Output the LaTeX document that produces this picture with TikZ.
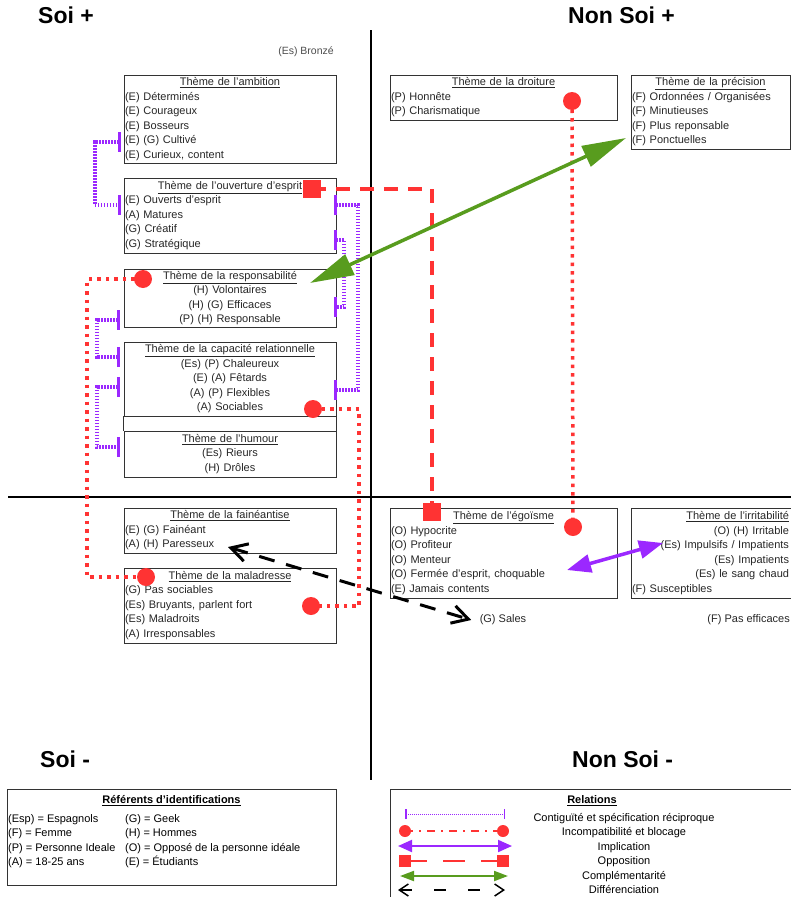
\documentclass[tikz,border=0pt]{standalone}
\usepackage{fontspec}
\setmainfont{Liberation Sans}
\usetikzlibrary{arrows.meta,positioning}
\definecolor{incred}{RGB}{255,51,51}
\definecolor{contpurple}{RGB}{155,40,255}
\definecolor{compgreen}{RGB}{88,156,30}
\newcommand{\boxfont}{\fontsize{11}{14.5}\selectfont}
\tikzset{
  theme/.style={draw=black!80, line width=0.9pt, inner xsep=1pt, inner ysep=0pt, font=\boxfont, text=black!85},
  quadrant/.style={font=\fontsize{23}{27}\selectfont\bfseries, anchor=west, inner sep=0pt},
  rdot/.style={circle, fill=incred, minimum size=18pt, inner sep=0pt},
  rsquare/.style={rectangle, fill=incred, minimum size=18pt, inner sep=0pt},
  contig/.style={contpurple, line width=4pt, dash pattern=on 1.5pt off 1.5pt, {Bar[width=20pt,line width=2.5pt]}-{Bar[width=20pt,line width=2.5pt]}},
  incomp/.style={incred, line width=3.5pt, dash pattern=on 3.5pt off 5pt},
  oppos/.style={incred, line width=3.5pt, dash pattern=on 14pt off 10pt},
  implic/.style={contpurple, line width=3.5pt, {Triangle[length=24pt,width=18pt]}-{Triangle[length=24pt,width=18pt]}},
  compl/.style={compgreen, line width=3.5pt, {Triangle[length=44pt,width=22pt]}-{Triangle[length=44pt,width=22pt]}},
  diff/.style={black, line width=3pt, dash pattern=on 16pt off 12pt, {Straight Barb[length=16pt,width=18pt]}-{Straight Barb[length=16pt,width=18pt]}},
}
\begin{document}
\begin{tikzpicture}[x=1pt,y=-1pt]
\useasboundingbox (0,0) rectangle (791,897);

% axes
\draw[line width=2pt] (371,30) -- (371,780);
\draw[line width=2pt] (8,497) -- (791,497);

% quadrants
\node[quadrant] (soiplus) at (38,15) {Soi +};
\node[quadrant] (nonsoiplus) at (568,15) {Non Soi +};
\node[quadrant] (soimoins) at (40,759) {Soi -};
\node[quadrant] (nonsoimoins) at (572,759) {Non Soi -};

\node[font=\fontsize{10.5}{12}\selectfont, text=black!70] (bronze) at (306,52) {(Es) Bronzé};

% Soi +
\node[theme, minimum width=212, minimum height=88, text width=210] (amb) at (230,119)
  {\centering\underline{Thème de l'ambition}\par\raggedright (E) Déterminés\\ (E) Courageux\\ (E) Bosseurs\\ (E) (G) Cultivé\\ (E) Curieux, content};
\node[theme, minimum width=212, minimum height=75, text width=210] (ouv) at (230,215.5)
  {\centering\underline{Thème de l'ouverture d'esprit}\par\raggedright (E) Ouverts d'esprit\\ (A) Matures\\ (G) Créatif\\ (G) Stratégique};
\node[theme, minimum width=212, minimum height=58, text width=210, align=center] (resp) at (230,298)
  {\underline{Thème de la responsabilité}\\ (H) Volontaires\\ (H) (G) Efficaces\\ (P) (H) Responsable};
\node[theme, minimum width=212, minimum height=74, text width=210, align=center] (cap) at (230,379)
  {\underline{Thème de la capacité relationnelle}\\ (Es) (P) Chaleureux\\ (E) (A) Fêtards\\ (A) (P) Flexibles\\ (A) Sociables};
\node[theme, minimum width=212, minimum height=46, text width=210, align=center] (hum) at (230,454)
  {\underline{Thème de l'humour}\\ (Es) Rieurs\\ (H) Drôles};
\draw[black!80, line width=0.9pt] (cap.south west) -- (hum.north west);
\draw[black!80, line width=0.9pt] (cap.south east) -- (hum.north east);

% Non Soi +
\node[theme, minimum width=227, minimum height=45, text width=225] (dro) at (503.5,97.5)
  {\centering\underline{Thème de la droiture}\par\raggedright (P) Honnête\\ (P) Charismatique};
\node[theme, minimum width=159, minimum height=74, text width=157] (pre) at (710.5,112)
  {\centering\underline{Thème de la précision}\par\raggedright (F) Ordonnées / Organisées\\ (F) Minutieuses\\ (F) Plus reponsable\\ (F) Ponctuelles};

% Soi -
\node[theme, minimum width=212, minimum height=45, text width=210] (fai) at (230,530.5)
  {\centering\underline{Thème de la fainéantise}\par\raggedright (E) (G) Fainéant\\ (A) (H) Paresseux};
\node[theme, minimum width=212, minimum height=75, text width=210] (mal) at (230,605.5)
  {\centering\underline{Thème de la maladresse}\par\raggedright (G) Pas sociables\\ (Es) Bruyants, parlent fort\\ (Es) Maladroits\\ (A) Irresponsables};

% Non Soi -
\node[theme, minimum width=227, minimum height=90, text width=225] (ego) at (503.5,553)
  {\centering\underline{Thème de l'égoïsme}\par\raggedright (O) Hypocrite\\ (O) Profiteur\\ (O) Menteur\\ (O) Fermée d'esprit, choquable\\ (E) Jamais contents};
\node[theme, minimum width=178, minimum height=90, text width=176] (irr) at (720,553)
  {\raggedleft\rightskip=19pt \underline{Thème de l'irritabilité}\\ (O) (H) Irritable\\ (Es) Impulsifs / Impatients\\ (Es) Impatients\\ (Es) le sang chaud\\ (F) Susceptibles};
\node[font=\boxfont, text=black!85] (sales) at (503,620) {(G) Sales};
\node[font=\boxfont, text=black!85, anchor=east, inner sep=0pt] (pasefficaces) at (790,620) {(F) Pas efficaces};

% contiguite
\draw[contig] ([shift={(-3,-21)}]amb.south west) -- ++(-26,0) |- ([shift={(-3,-10.5)}]ouv.west);
\draw[contig] ([shift={(-2,-10.5)}]ouv.east) -- ++(24,0) |- ([shift={(-2,11)}]cap.east);
\draw[contig] ([shift={(-2,24.5)}]ouv.east) -- ++(10,0) |- ([shift={(-2,9)}]resp.east);
\draw[contig] ([shift={(-4,22)}]resp.west) -- ++(-23,0) |- ([shift={(-4,-22)}]cap.west);
\draw[contig] ([shift={(-4,8)}]cap.west) -- ++(-23,0) |- ([shift={(-4,-7)}]hum.west);

% incompatibilite
\node[rdot] (resp-dot) at (143,279) {};
\node[rdot] (mal-dota) at (146,577) {};
\node[rdot] (cap-dot) at (313,409) {};
\node[rdot] (mal-dotb) at (311,606) {};
\node[rdot] (dro-dot) at (572,101) {};
\node[rdot] (ego-dot) at (573,527) {};
\draw[incomp] (resp-dot.center) -- (87,279) |- (mal-dota.center);
\draw[incomp] (cap-dot.center) -- (359,409) |- (mal-dotb.center);
\draw[incomp] (dro-dot.center) -- (ego-dot.center);

% opposition
\node[rsquare] (ouv-sq) at (312,189) {};
\node[rsquare] (ego-sq) at (432,512) {};
\draw[oppos] (ouv-sq.center) -| (ego-sq.center);

% implication, complementarite, differenciation
\coordinate (ego-imp) at (567,570);
\coordinate (irr-imp) at (663,543);
\draw[implic] (ego-imp) -- (irr-imp);
\coordinate (resp-comp) at (310,283);
\coordinate (pre-comp) at (626,138);
\draw[compl] (resp-comp) -- (pre-comp);
\coordinate (fai-diff) at (228,547);
\draw[diff] (fai-diff) -- ([xshift=-5pt]sales.west);

% legende : referents
\node[theme, minimum width=329, minimum height=96, anchor=north west] (refs) at (7,789) {};
\node[font=\boxfont\bfseries] (refs-title) at (171.5,801) {\underline{Référents d'identifications}};
\node[font=\boxfont, align=left, anchor=north west, inner sep=0pt] (refs-left) at (8,814)
  {(Esp) = Espagnols\\ (F) = Femme\\ (P) = Personne Ideale\\ (A) = 18-25 ans};
\node[font=\boxfont, align=left, anchor=north west, inner sep=0pt] (refs-right) at (125,814)
  {(G) = Geek\\ (H) = Hommes\\ (O) = Opposé de la personne idéale\\ (E) = Étudiants};

% legende : relations
\node[theme, minimum width=420, minimum height=130, anchor=north west] (rels) at (390,789) {};
\node[font=\boxfont\bfseries] (rels-title) at (592,801) {\underline{Relations}};
\node[font=\boxfont, align=center, anchor=north, inner sep=0pt] (rels-text) at (624,813)
  {Contiguïté et spécification réciproque\\ Incompatibilité et blocage\\ Implication\\ Opposition\\ Complémentarité\\ Différenciation};
\foreach \i/\y in {1/814,2/831,3/846,4/861,5/876,6/890} {
  \coordinate (ls\i) at (405,\y);
  \coordinate (le\i) at (505,\y);
}
\draw[contpurple, line width=1pt, dash pattern=on 1pt off 1pt, {Bar[width=10pt,line width=1.5pt]}-{Bar[width=10pt,line width=1.5pt]}] (ls1) -- (le1);
\draw[incred, line width=1.5pt, dash pattern=on 8pt off 6pt on 2pt off 6pt] (ls2) -- (le2);
\fill[incred] (ls2) circle[radius=6];
\fill[incred] ([xshift=-2pt]le2) circle[radius=6];
\draw[contpurple, line width=2pt, {Triangle[length=14pt,width=12pt]}-{Triangle[length=14pt,width=12pt]}] ([xshift=-7pt]ls3) -- ([xshift=7pt]le3);
\draw[incred, line width=1.5pt, dash pattern=on 22pt off 16pt] (ls4) -- (le4);
\fill[incred] ([shift={(-6,-6)}]ls4) rectangle ++(12,12);
\fill[incred] ([shift={(-8,-6)}]le4) rectangle ++(12,12);
\draw[compgreen, line width=2pt, {Triangle[length=14pt,width=10pt]}-{Triangle[length=14pt,width=10pt]}] ([xshift=-5pt]ls5) -- ([xshift=3pt]le5);
\draw[black, line width=1.5pt, dash pattern=on 12pt off 22pt, {Straight Barb[length=9pt,width=12pt]}-{Straight Barb[length=9pt,width=12pt]}] ([xshift=-7pt]ls6) -- (le6);
\end{tikzpicture}
\end{document}
